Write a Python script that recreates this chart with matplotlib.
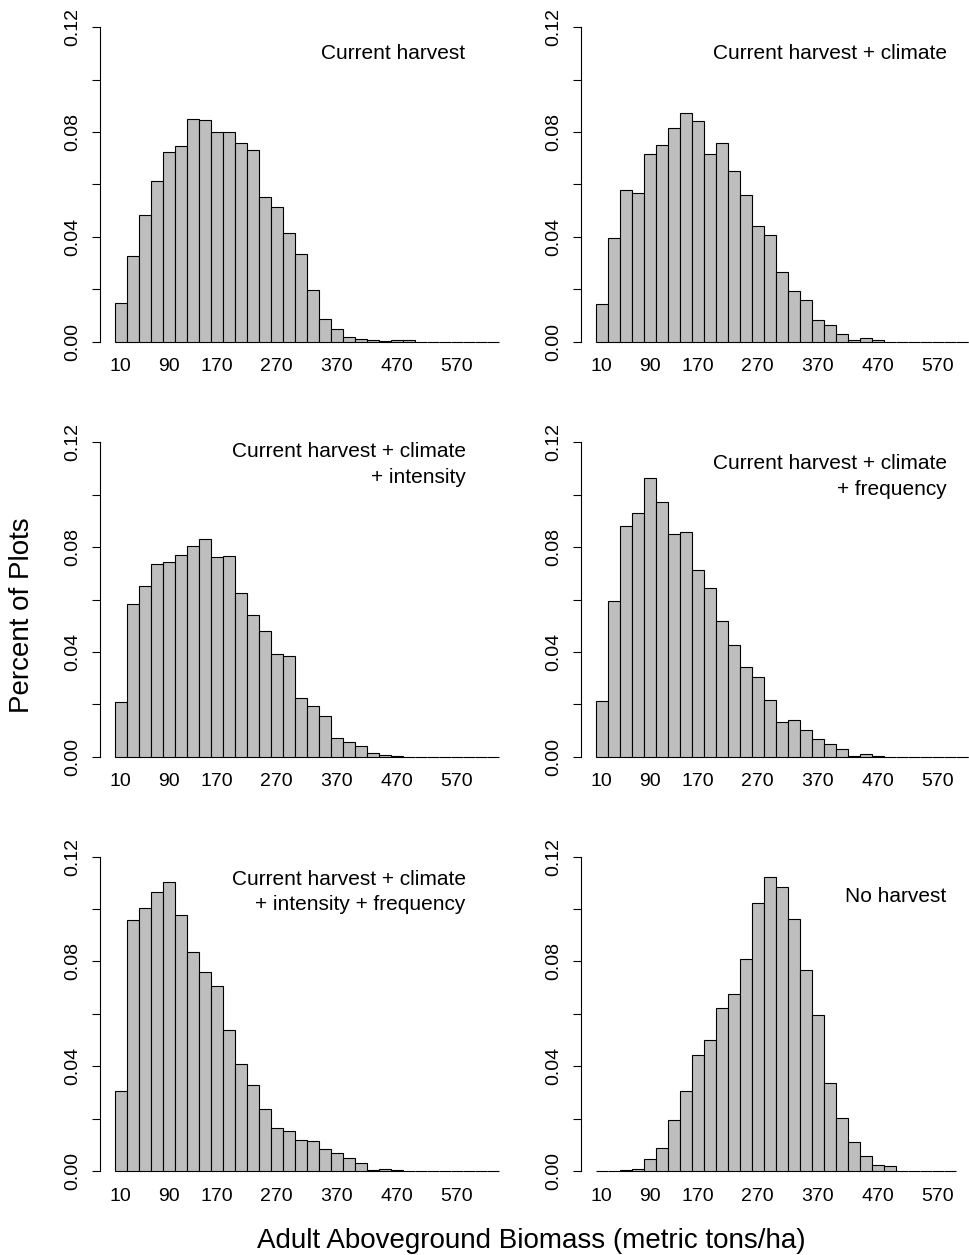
import matplotlib
matplotlib.use("Agg")
import matplotlib.pyplot as plt

plt.rcParams['font.family'] = ['Liberation Sans', 'DejaVu Sans']

# Bin midpoints (metric tons/ha), 20-wide bins
bin_mids = [10, 30, 50, 70, 90, 110, 130, 150, 170, 190, 210, 230, 250, 270, 290, 310,
            330, 350, 370, 390, 410, 430, 450, 470, 490, 510, 530, 550, 570, 590, 610, 630]
tick_labels = ['10', '90', '170', '270', '370', '470', '570']

# Proportion of plots per bin
current_harvest = [0.0149, 0.0326, 0.0482, 0.0615, 0.0724, 0.0746, 0.0850, 0.0848, 0.0802, 0.0802,
                   0.0757, 0.0730, 0.0551, 0.0515, 0.0414, 0.0335, 0.0196, 0.0085, 0.0047, 0.0019,
                   0.0011, 0.0005, 0.0004, 0.0008, 0.0005, 0, 0, 0, 0, 0, 0, 0]
harvest_climate = [0.0144, 0.0396, 0.0578, 0.0566, 0.0715, 0.0751, 0.0817, 0.0874, 0.0841, 0.0715,
                   0.0757, 0.0653, 0.0561, 0.0440, 0.0406, 0.0265, 0.0192, 0.0159, 0.0083, 0.0062,
                   0.0031, 0.0008, 0.0013, 0.0005, 0, 0, 0, 0, 0, 0, 0, 0]
harvest_climate_int = [0.0207, 0.0582, 0.0653, 0.0736, 0.0744, 0.0771, 0.0803, 0.0830, 0.0761, 0.0765,
                       0.0624, 0.0540, 0.0478, 0.0392, 0.0386, 0.0224, 0.0193, 0.0155, 0.0070, 0.0057,
                       0.0042, 0.0015, 0.0008, 0.0003, 0, 0, 0, 0, 0, 0, 0, 0]
harvest_climate_freq = [0.0213, 0.0596, 0.0882, 0.0929, 0.1065, 0.0972, 0.0849, 0.0856, 0.0711, 0.0644,
                        0.0518, 0.0425, 0.0341, 0.0303, 0.0218, 0.0131, 0.0140, 0.0102, 0.0067, 0.0047,
                        0.0028, 0.0003, 0.0010, 0.0003, 0, 0, 0, 0, 0, 0, 0, 0]
harvest_climate_int_freq = [0.0304, 0.0958, 0.1005, 0.1063, 0.1102, 0.0976, 0.0835, 0.0760, 0.0708, 0.0538,
                            0.0408, 0.0327, 0.0235, 0.0164, 0.0151, 0.0120, 0.0113, 0.0084, 0.0067, 0.0048,
                            0.0029, 0.0003, 0.0009, 0.0004, 0, 0, 0, 0, 0, 0, 0, 0]
no_harvest = [0, 0, 0.0003, 0.0006, 0.0047, 0.0088, 0.0195, 0.0305, 0.0443, 0.0499,
              0.0622, 0.0677, 0.0808, 0.1024, 0.1124, 0.1083, 0.0962, 0.0769, 0.0594, 0.0337,
              0.0201, 0.0111, 0.0057, 0.0023, 0.0020, 0, 0, 0, 0, 0]

panel_labels = [
    ["Current harvest"],
    ["Current harvest + climate"],
    ["Current harvest + climate", "+ intensity"],
    ["Current harvest + climate", "+ frequency"],
    ["Current harvest + climate", "+ intensity + frequency"],
    ["No harvest"],
]
panel_values = [current_harvest, harvest_climate, harvest_climate_int,
                harvest_climate_freq, harvest_climate_int_freq, no_harvest]

# layout (pixels of a 969x1255 canvas)
W, H = 969, 1255
BAR_PX = 12.0
COL_SPINE = [99.5, 580.5]
ROW_ZERO = [341.7, 756.7, 1171.0]
PX_PER_UNIT = 2620.0
X0, X1 = -1.75, 31.5
YLO, YHI = -0.005, 0.125
LABEL_Y = [0.1079, 0.1078, 0.1143, 0.1097, 0.1092, 0.1027]
LINE_STEP = 0.0097

fig = plt.figure(figsize=(W / 100, H / 100), dpi=100)

for i, (vals, label) in enumerate(zip(panel_values, panel_labels)):
    r, c = divmod(i, 2)
    left = COL_SPINE[c]
    width = (X1 - X0) * BAR_PX
    bottom_px = ROW_ZERO[r] - YLO * PX_PER_UNIT
    height = (YHI - YLO) * PX_PER_UNIT
    ax = fig.add_axes([left / W, 1 - bottom_px / H, width / W, height / H])
    ax.patch.set_alpha(0)

    ax.bar(range(len(vals)), vals, width=1.0, color='#bebebe',
           edgecolor='black', linewidth=0.8, clip_on=False)

    ax.set_xlim(X0, X1)
    ax.set_ylim(YLO, YHI)

    for side in ['top', 'right', 'bottom']:
        ax.spines[side].set_visible(False)
    ax.spines['left'].set_bounds(0, 0.12)
    ax.spines['left'].set_linewidth(0.8)

    ax.set_yticks([0, 0.04, 0.08, 0.12])
    ax.set_yticklabels(['0.00', '0.04', '0.08', '0.12'], rotation=90, va='center', fontsize=14)
    ax.set_yticks([0.02, 0.06, 0.10], minor=True)
    ax.tick_params(axis='y', which='both', length=5.7, width=0.8, pad=7.5)

    ax.set_xticks([bin_mids.index(int(t)) for t in tick_labels])
    ax.set_xticklabels(tick_labels, fontsize=14)
    ax.tick_params(axis='x', length=0, pad=2.5)

    for k, line in enumerate(label):
        ax.text(28.75, LABEL_Y[i] - k * LINE_STEP, line, ha='right', va='baseline',
                fontsize=15)

fig.text(257 / W, 1 - 1248 / H, 'Adult Aboveground Biomass (metric tons/ha)',
         ha='left', va='baseline', fontsize=20)
fig.text(22.5 / W, 1 - 713 / H, 'Percent of Plots', rotation=90,
         ha='center', va='bottom', fontsize=20)

fig.savefig('out.png', dpi=100)
